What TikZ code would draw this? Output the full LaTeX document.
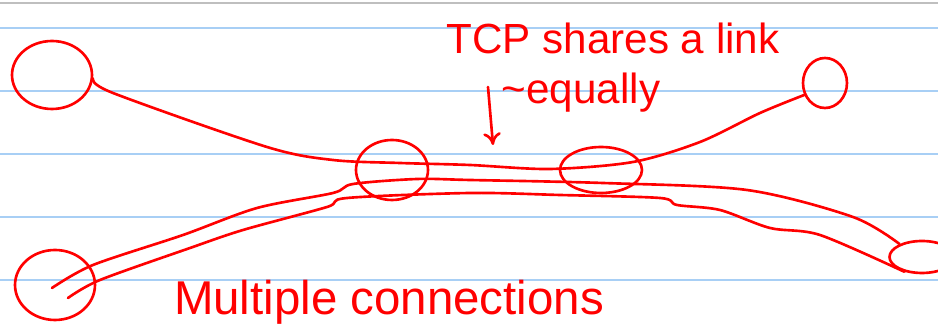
\documentclass[tikz,border=0pt]{standalone}
\usepackage{fontspec}
\setmainfont{Liberation Sans}
\usetikzlibrary{shapes.geometric,arrows.meta}

\begin{document}
\begin{tikzpicture}[x=0.02cm,y=-0.02cm,
        ink/.style={draw=red,line width=1.5pt,line cap=round,line join=round},
        host/.style={ink,ellipse,inner sep=0pt},
        note/.style={text=red,font=\fontsize{24}{26}\selectfont,inner sep=0pt}]
        \useasboundingbox[fill=white](0,0) rectangle (938,330);
        \foreach \y in {28,91,154,217,280}
                \draw[color={rgb,255:red,168;green,207;blue,245},line width=1pt](0,\y)--(938,\y);
        \draw[color=gray!50,line width=1pt](0,3)--(938,3);
        \node[host,minimum width=1.6cm,minimum height=1.36cm](h1) at (52,75) {};
        \node[host,minimum width=0.88cm,minimum height=1cm](h2) at (825,83) {};
        \node[host,minimum width=1.6cm,minimum height=1.4cm](h3) at (55,285) {};
        \node[host,minimum width=1.3cm,minimum height=0.64cm](h4) at (922,257) {};
        \node[host,minimum width=1.44cm,minimum height=1.2cm](l1) at (392,170) {};
        \node[host,minimum width=1.64cm,minimum height=0.92cm](l2) at (601,170) {};
        \coordinate(b0) at (52,288);
        \coordinate(c0) at (68,298);
        \draw[ink] plot[smooth,tension=0.5] coordinates {(h1.-5) (113,93) (267,147) (333,160) (400,163) (470,165) (550,169) (633,162) (700,142) (760,113) (h2.210)};
        \draw[ink] plot[smooth,tension=0.5] coordinates {(b0) (93,265) (183,235) (257,208) (333,193) (353,184) (417,179) (470,180) (603,183) (747,190) (853,217) (h4.150)};
        \draw[ink] plot[smooth,tension=0.5] coordinates {(c0) (100,280) (190,248) (243,230) (327,207) (347,198) (470,193) (560,195) (660,198) (677,205) (720,210) (770,228) (820,235) (h4.220)};
        \node[note](t1) at (613,38) {TCP shares a link};
        \node[note,anchor=base](t2) at (581,104) {\textasciitilde equally};
        \node[note,font=\fontsize{27}{29}\selectfont](t3) at (389,302) {Multiple connections};
        \coordinate(a0) at (488,87);
        \coordinate(a1) at (493,145);
        \draw[ink,-{To[length=7pt,width=10pt]}](a0)--(a1);
\end{tikzpicture}
\end{document}
